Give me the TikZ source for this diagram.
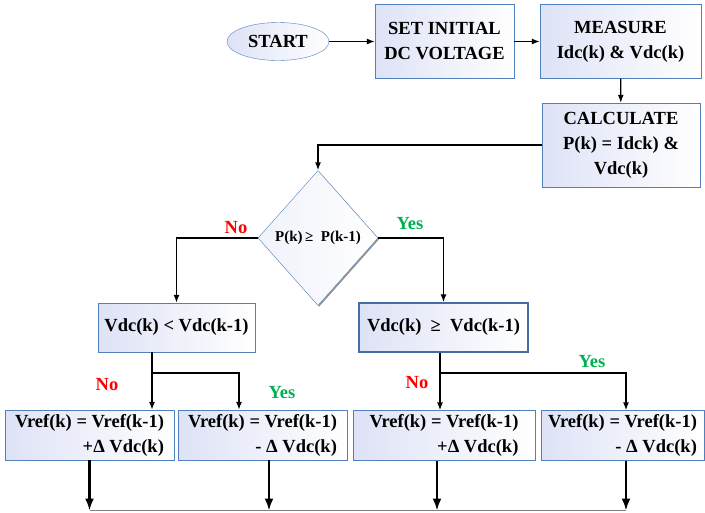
\documentclass[tikz,border=0pt]{standalone}
\usepackage{fontspec}
\setmainfont{Liberation Serif}
\usetikzlibrary{shapes.geometric,arrows.meta,shadows}
\definecolor{boxline}{RGB}{79,129,189}
\definecolor{boxfill}{RGB}{222,226,246}
\definecolor{yesgreen}{RGB}{0,176,80}

\begin{document}
\begin{tikzpicture}[
    x=1pt, y=-1pt,
    every node/.style={font=\fontsize{18.5}{25}\selectfont\bfseries},
    box/.style={draw=boxline,left color=boxfill,right color=white,inner sep=2pt,align=center},
    refbox/.style={box,align=right,minimum height=50pt},
    decision/.style={diamond,draw=boxline,left color=boxfill!45!white,right color=white,
      minimum width=120pt,minimum height=135pt,inner sep=0pt,
      drop shadow={shadow xshift=1.2pt,shadow yshift=-1.2pt,opacity=0.6,fill=black!70},
      font=\fontsize{15}{18}\selectfont\bfseries},
    arr/.style={-{Latex[length=8pt,width=6pt]},line width=1.2pt},
    outarr/.style={-{Latex[length=12pt,width=9pt]},line width=2.2pt},
    no/.style={text=red,inner sep=0pt},
    yes/.style={text=yesgreen,inner sep=0pt},
  ]
  \useasboundingbox (0,0) rectangle (705,512);

  % Top row
  \node[ellipse,draw=boxline,left color=boxfill,right color=white,
    minimum width=102pt,minimum height=38pt,inner sep=0pt] (start) at (278,41.5) {START};
  \node[box,minimum width=139pt,minimum height=74pt] (init) at (444.5,41.5) {SET INITIAL\\DC VOLTAGE};
  \node[box,minimum width=161pt,minimum height=74pt] (meas) at (620.5,41.5) {MEASURE\\Idc(k) \& Vdc(k)};
  \draw[arr] (start) -- (init);
  \draw[arr] (init) -- (meas);

  % Power
  \node[box,minimum width=158pt,minimum height=84pt] (power) at (621,145) {CALCULATE\\P(k) = Idck) \&\\Vdc(k)};
  \draw[arr] (meas) -- (power);

  % Decision on power
  \node[decision] (cmp) at (318,238) {P(k)\,≥\ \ P(k-1)};
  \draw[arr] (power.west) -| (cmp.north);

  \node[box,minimum width=157pt,minimum height=49pt] (vless) at (176.5,327.5) {Vdc(k) < Vdc(k-1)};
  \node[box,draw=boxline!85!black,line width=1.4pt,minimum width=169pt,minimum height=49pt] (vmore) at (443.5,327.5) {Vdc(k)\ \ ≥\ \ Vdc(k-1)};
  \draw[arr] (cmp.west) -| (vless.north);
  \draw[arr] (cmp.east) -| (vmore.north);
  \node[no] (no1) at (236,228) {No};
  \node[yes] (yes1) at (410,224) {Yes};

  % Reference update
  \node[refbox,minimum width=169pt] (inc1) at (89.5,435) {Vref(k) = Vref(k-1)\\+Δ Vdc(k)};
  \node[refbox,minimum width=169pt] (dec1) at (262.5,435) {Vref(k) = Vref(k-1)\\- Δ Vdc(k)};
  \node[refbox,minimum width=182pt] (inc2) at (444,435.5) {Vref(k) = Vref(k-1)\\+Δ Vdc(k)};
  \node[refbox,minimum width=163pt] (dec2) at (622.5,435.5) {Vref(k) = Vref(k-1)\\- Δ Vdc(k)};

  \coordinate (ja) at (152,373);
  \coordinate (jb) at (239,373);
  \coordinate (jc) at (440,373);
  \coordinate (jd) at (626,373);
  \draw[arr] (vless.south -| ja) -- (inc1.north -| ja);
  \draw[arr] (ja) -- (jb) -- (dec1.north -| jb);
  \draw[arr] (vmore.south -| jc) -- (inc2.north -| jc);
  \draw[arr] (jc) -- (jd) -- (dec2.north -| jd);
  \node[no] (no2) at (107,385) {No};
  \node[yes] (yes2) at (282,393) {Yes};
  \node[no] (no3) at (417,383) {No};
  \node[yes] (yes3) at (592,362) {Yes};

  % Outputs
  \coordinate (ea) at (89.5,510.5);
  \coordinate (eb) at (269,510.5);
  \coordinate (ec) at (437,510.5);
  \coordinate (ed) at (626,510.5);
  \draw[gray,line width=1pt] (ea) -- (ed);
  \draw[outarr] (inc1.south -| ea) -- (ea);
  \draw[outarr] (dec1.south -| eb) -- (eb);
  \draw[outarr] (inc2.south -| ec) -- (ec);
  \draw[outarr] (dec2.south -| ed) -- (ed);
\end{tikzpicture}
\end{document}
